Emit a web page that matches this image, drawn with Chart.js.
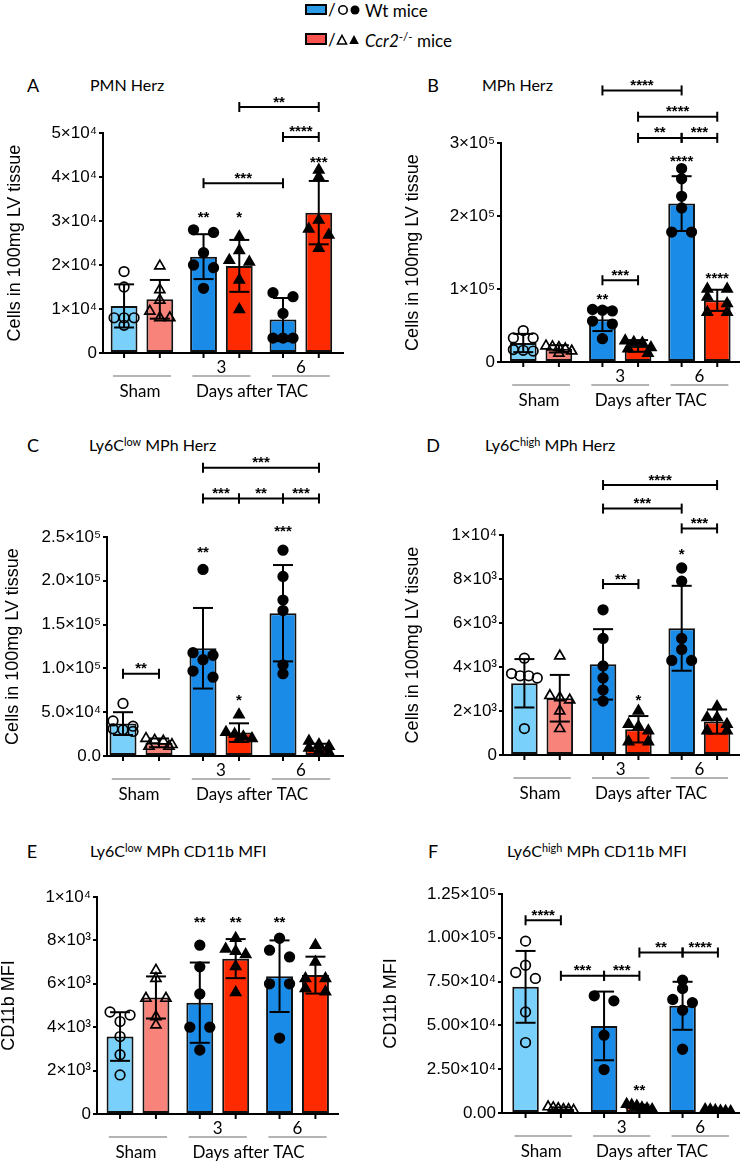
<!DOCTYPE html>
<html lang="en">
<head>
<meta charset="UTF-8">
<title>Ccr2 knockout - cardiac myeloid cells after TAC</title>
<script src="https://cdn.jsdelivr.net/npm/chart.js"></script>
<style>
  body { margin: 0; background: #fff; }
  #fig { position: relative; width: 747px; height: 1165px; overflow: hidden; font-family: Lato, "Open Sans", sans-serif; color: #000; }
  #fig canvas { position: absolute; }
  .lbl { position: absolute; transform: translate(-50%, -50%); font-size: 18px; line-height: 1; }
  .ttl { position: absolute; transform: translateY(-50%); font-size: 16px; line-height: 1; white-space: nowrap; }
  .ttl sup, .lg sup { font-size: 0.68em; vertical-align: 0.5em; line-height: 0; }
  .lg { position: absolute; left: 365px; transform: translateY(-50%); font-size: 17px; line-height: 1; white-space: nowrap; }
  #sym { position: absolute; left: 300px; top: 0; }
</style>
</head>
<body>
<div id="fig">
  <svg id="sym" width="65" height="50">
    <rect x="6" y="5" width="20" height="9" fill="#2b9be8" stroke="#000" stroke-width="2"/>
    <text x="28" y="16" font-family="Lato" font-size="17">/</text>
    <circle cx="43" cy="10" r="4.2" fill="none" stroke="#000" stroke-width="1.6"/>
    <circle cx="55" cy="10" r="4.5" fill="#000"/>
    <rect x="6" y="34" width="20" height="10" fill="#f9534f" stroke="#000" stroke-width="2"/>
    <text x="28" y="46" font-family="Lato" font-size="17">/</text>
    <polygon points="42,35.5 46.5,44 37.5,44" fill="none" stroke="#000" stroke-width="1.6"/>
    <polygon points="54,35 58.8,44 49.2,44" fill="#000"/>
  </svg>
  <div class="lg" style="top:10px">Wt mice</div>
  <div class="lg" style="top:40px"><i>Ccr2</i><sup>-/-</sup> mice</div>

  <div class="lbl" style="left:33px;top:85px">A</div>
  <div class="ttl" style="left:90px;top:85px">PMN Herz</div>
  <div class="lbl" style="left:433px;top:85px">B</div>
  <div class="ttl" style="left:482px;top:85px">MPh Herz</div>
  <div class="lbl" style="left:33px;top:445px">C</div>
  <div class="ttl" style="left:89px;top:445px">Ly6C<sup>low</sup> MPh Herz</div>
  <div class="lbl" style="left:433px;top:445px">D</div>
  <div class="ttl" style="left:485px;top:445px">Ly6C<sup>high</sup> MPh Herz</div>
  <div class="lbl" style="left:32px;top:851px">E</div>
  <div class="ttl" style="left:90px;top:851px">Ly6C<sup>low</sup> MPh CD11b MFI</div>
  <div class="lbl" style="left:433px;top:851px">F</div>
  <div class="ttl" style="left:507px;top:851px">Ly6C<sup>high</sup> MPh CD11b MFI</div>
</div>

<script>
// groups on the x axis, and the two genotypes
const groups = ['Sham', '3', '6'];
const dayLabels = ['', '3', '6'];
const timeTitle = 'Days after TAC';
const genotypes = ['Wt mice', 'Ccr2-/- mice'];
// bar index used by brackets / stars: 0 sham Wt, 1 sham Ccr2, 2 d3 Wt, 3 d3 Ccr2, 4 d6 Wt, 5 d6 Ccr2

// A - PMN Herz
const pmnTicks = ['0', '1×10⁴', '2×10⁴', '3×10⁴', '4×10⁴', '5×10⁴'];
const pmnWtMean = [10.7e3, 21.9e3, 7.6e3];
const pmnWtSd = [4.9e3, 5.1e3, 4.9e3];
const pmnKoMean = [12.2e3, 19.8e3, 31.9e3];
const pmnKoSd = [4.4e3, 5.9e3, 7.2e3];
const pmnWtPts = [[18.5e3, 15.0e3, 8.0e3, 8.0e3, 8.0e3, 6.3e3], [28.0e3, 27.4e3, 22.8e3, 20.0e3, 19.4e3, 14.7e3], [13.7e3, 12.8e3, 9.0e3, 3.4e3, 3.4e3, 3.4e3]];
const pmnKoPts = [[19.8e3, 14.4e3, 12.0e3, 9.5e3, 8.0e3, 8.0e3], [26.4e3, 23.3e3, 21.1e3, 20.7e3, 16.6e3, 9.9e3], [41.6e3, 40.0e3, 30.2e3, 28.2e3, 26.8e3, 23.8e3]];
const pmnBrackets = [[3, 5, 55.9e3, '**'], [4, 5, 49.1e3, '****'], [2, 4, 38.6e3, '***']];
const pmnStars = [[2, 31.8e3, '**'], [3, 31.8e3, '*'], [5, 44.3e3, '***']];

// B - MPh Herz
const mphTicks = ['0', '1×10⁵', '2×10⁵', '3×10⁵'];
const mphWtMean = [26e3, 58.4e3, 217e3];
const mphWtSd = [12.5e3, 16e3, 37.5e3];
const mphKoMean = [18e3, 22e3, 84.5e3];
const mphKoSd = [5e3, 8e3, 14.5e3];
const mphWtPts = [[43e3, 33e3, 33e3, 17e3, 16e3, 15e3], [72e3, 71e3, 70e3, 56e3, 52e3, 32e3], [265e3, 251e3, 227e3, 211e3, 178e3, 178e3]];
const mphKoPts = [[22e3, 21e3, 20e3, 18e3, 15e3, 12e3], [29e3, 27e3, 26e3, 20e3, 18e3, 12e3], [100e3, 100e3, 89e3, 80e3, 68e3, 68e3]];
const mphBrackets = [[2, 4, 372e3, '****'], [3, 5, 336e3, '****'], [3, 4, 307e3, '**'], [4, 5, 307e3, '***'], [2, 3, 112e3, '***']];
const mphStars = [[2, 91e3, '**'], [4, 280e3, '****'], [5, 120e3, '****']];

// C - Ly6C low MPh Herz
const lowTicks = ['0.0', '5.0×10⁴', '1.0×10⁵', '1.5×10⁵', '2.0×10⁵', '2.5×10⁵'];
const lowWtMean = [37e3, 123e3, 163e3];
const lowWtSd = [13e3, 46e3, 55e3];
const lowKoMean = [15e3, 26.7e3, 10e3];
const lowKoSd = [5e3, 10.6e3, 4e3];
const lowWtPts = [[60e3, 40e3, 34e3, 31e3, 30e3, 28e3], [213e3, 118e3, 115e3, 110e3, 97e3, 90e3], [235e3, 205e3, 178e3, 166e3, 104e3, 94e3]];
const lowKoPts = [[20e3, 18e3, 17e3, 13e3, 11e3, 11e3], [47e3, 27e3, 25e3, 22e3, 20e3, 19e3], [17e3, 13e3, 11e3, 9e3, 6e3, 4e3]];
const lowBrackets = [[2, 5, 329e3, '***'], [2, 3, 294e3, '***'], [3, 4, 294e3, '**'], [4, 5, 294e3, '***'], [0, 1, 94e3, '**']];
const lowStars = [[2, 237e3, '**'], [3, 68e3, '*'], [4, 261e3, '***']];

// D - Ly6C high MPh Herz
const highTicks = ['0', '2×10³', '4×10³', '6×10³', '8×10³', '1×10⁴'];
const highWtMean = [3.26e3, 4.12e3, 5.76e3];
const highWtSd = [1.1e3, 1.6e3, 1.93e3];
const highKoMean = [2.58e3, 1.17e3, 1.52e3];
const highKoSd = [1.06e3, 0.6e3, 0.55e3];
const highWtPts = [[4.4e3, 3.7e3, 3.6e3, 3.6e3, 3.5e3, 1.2e3], [6.6e3, 5.3e3, 4.05e3, 3.5e3, 2.95e3, 2.45e3], [8.5e3, 7.9e3, 5.3e3, 4.8e3, 4.3e3, 4.3e3]];
const highKoPts = [[4.5e3, 2.7e3, 2.6e3, 2.5e3, 2.0e3, 1.2e3], [2.0e3, 1.4e3, 1.3e3, 1.1e3, 0.6e3, 0.6e3], [2.2e3, 1.7e3, 1.7e3, 1.4e3, 1.1e3, 1.1e3]];
const highBrackets = [[2, 5, 12.27e3, '****'], [2, 4, 11.2e3, '***'], [4, 5, 10.3e3, '***'], [2, 3, 7.77e3, '**']];
const highStars = [[4, 9.3e3, '*'], [3, 2.68e3, '*']];

// E - Ly6C low MPh CD11b MFI
const lowMfiTicks = ['0', '2×10³', '4×10³', '6×10³', '8×10³', '1×10⁴'];
const lowMfiWtMean = [3.57e3, 5.13e3, 6.35e3];
const lowMfiWtSd = [1.12e3, 1.85e3, 1.65e3];
const lowMfiKoMean = [5.37e3, 7.16e3, 6.4e3];
const lowMfiKoSd = [0.97e3, 0.9e3, 0.85e3];
const lowMfiWtPts = [[4.7e3, 4.56e3, 4.26e3, 3.57e3, 2.73e3, 1.8e3], [7.78e3, 6.78e3, 5.53e3, 4.0e3, 4.0e3, 2.95e3], [8.1e3, 7.55e3, 7.24e3, 6.0e3, 6.0e3, 3.5e3]];
const lowMfiKoPts = [[6.63e3, 6.25e3, 5.33e3, 5.33e3, 4.48e3, 4.1e3], [8.1e3, 7.6e3, 7.5e3, 7.35e3, 6.8e3, 5.6e3], [7.78e3, 7.0e3, 6.25e3, 6.25e3, 5.78e3, 5.63e3]];
const lowMfiBrackets = [];
const lowMfiStars = [[2, 9.0e3, '**'], [3, 9.0e3, '**'], [4, 9.0e3, '**']];

// F - Ly6C high MPh CD11b MFI
const highMfiTicks = ['0.00', '2.50×10⁴', '5.00×10⁴', '7.50×10⁴', '1.00×10⁵', '1.25×10⁵'];
const highMfiWtMean = [72e3, 49.7e3, 61.2e3];
const highMfiWtSd = [20.5e3, 19.6e3, 13.7e3];
const highMfiKoMean = [2.4e3, 3.5e3, 1.4e3];
const highMfiKoSd = [0.8e3, 1.2e3, 0.5e3];
const highMfiWtPts = [[98.1e3, 84.4e3, 80.2e3, 76.8e3, 57.7e3, 40.2e3], [66.9e3, 64e3, 44.4e3, 24.8e3], [75.8e3, 71e3, 64.8e3, 63e3, 58.7e3, 36.4e3]];
const highMfiKoPts = [[3.5e3, 3.0e3, 2.5e3, 2.0e3, 2.0e3, 1.5e3], [5.0e3, 4.5e3, 4.0e3, 3.0e3, 2.5e3, 2.0e3], [2.0e3, 1.8e3, 1.5e3, 1.2e3, 1.0e3, 0.8e3]];
const highMfiBrackets = [[0, 1, 110e3, '****'], [1, 2, 78.3e3, '***'], [2, 3, 78.3e3, '***'], [3, 4, 91.6e3, '**'], [4, 5, 91.6e3, '****']];
const highMfiStars = [[3, 15.2e3, '**']];

const cellsTitle = 'Cells in 100mg LV tissue';
const mfiTitle = 'CD11b MFI';

// layout: box = canvas [left, top, w, h], area = plot [left, top, right, bottom] in page pixels
const panels = [
  { box: [0, 70, 374, 345], area: [103, 133, 343, 353], xRange: [-0.49, 2.53], yMax: 5e4, yStep: 1e4, ticks: pmnTicks,
    yTitle: cellsTitle, titlePad: 6, wt: [pmnWtMean, pmnWtSd, pmnWtPts], ko: [pmnKoMean, pmnKoSd, pmnKoPts], brackets: pmnBrackets, stars: pmnStars },
  { box: [374, 70, 373, 345], area: [501, 143, 742, 362], xRange: [-0.506, 2.506], yMax: 3e5, yStep: 1e5, ticks: mphTicks,
    yTitle: cellsTitle, titlePad: 30, wt: [mphWtMean, mphWtSd, mphWtPts], ko: [mphKoMean, mphKoSd, mphKoPts], brackets: mphBrackets, stars: mphStars },
  { box: [0, 425, 374, 385], area: [107, 537, 343, 756], xRange: [-0.425, 2.525], yMax: 2.5e5, yStep: 5e4, ticks: lowTicks,
    yTitle: cellsTitle, titlePad: 4, wt: [lowWtMean, lowWtSd, lowWtPts], ko: [lowKoMean, lowKoSd, lowKoPts], brackets: lowBrackets, stars: lowStars },
  { box: [374, 425, 373, 385], area: [503, 535, 742, 755], xRange: [-0.497, 2.51], yMax: 1e4, yStep: 2e3, ticks: highTicks,
    yTitle: cellsTitle, titlePad: 30, wt: [highWtMean, highWtSd, highWtPts], ko: [highKoMean, highKoSd, highKoPts], brackets: highBrackets, stars: highStars },
  { box: [0, 820, 374, 345], area: [97, 897, 338, 1114], xRange: [-0.514, 2.508], yMax: 1e4, yStep: 2e3, ticks: lowMfiTicks,
    yTitle: mfiTitle, titlePad: 0, wt: [lowMfiWtMean, lowMfiWtSd, lowMfiWtPts], ko: [lowMfiKoMean, lowMfiKoSd, lowMfiKoPts], brackets: lowMfiBrackets, stars: lowMfiStars },
  { box: [374, 820, 373, 345], area: [502, 894, 744, 1113], xRange: [-0.525, 2.5], yMax: 1.25e5, yStep: 2.5e4, ticks: highMfiTicks,
    yTitle: mfiTitle, titlePad: 8, wt: [highMfiWtMean, highMfiWtSd, highMfiWtPts], ko: [highMfiKoMean, highMfiKoSd, highMfiKoPts], brackets: highMfiBrackets, stars: highMfiStars }
];

const wtFill = ['#79d1fb', '#1a8ce8', '#1a8ce8'];
const koFill = ['#f8837a', '#ff2a00', '#ff2a00'];
const PAIR = 0.225; // half gap between Wt and Ccr2 bar inside a group (group units)

Chart.defaults.font.family = '"Liberation Sans", Arial, sans-serif';
Chart.defaults.color = '#000';

// spread points of similar height sideways, like Prism does (returns px offsets)
function swarm(vals, pxPerY) {
  const order = vals.map((v, i) => i).sort((a, b) => vals[b] - vals[a]);
  const off = vals.map(() => 0);
  let row = [];
  const flush = () => {
    const n = row.length;
    const s = n === 2 ? 20 : Math.min(10, 26 / Math.max(1, n - 1));
    row.forEach((k, j) => { off[k] = (j - (n - 1) / 2) * s; });
    row = [];
  };
  order.forEach(k => {
    if (row.length && (vals[row[0]] - vals[k]) * pxPerY > 7) flush();
    row.push(k);
  });
  flush();
  return off;
}

function seg(ctx, x1, y1, x2, y2) {
  ctx.beginPath();
  ctx.moveTo(x1, y1);
  ctx.lineTo(x2, y2);
  ctx.stroke();
}

function starText(ctx, txt, cx, cy) {
  ctx.font = 'bold 15px "Liberation Sans", Arial, sans-serif';
  ctx.textAlign = 'center';
  ctx.textBaseline = 'alphabetic';
  ctx.fillText(txt, cx, cy + 8.5);
}

// error bars, x tick marks, significance brackets and group captions
const figPlugin = {
  id: 'fig',
  afterDraw(chart, args, o) {
    const { ctx, chartArea: ca, scales: { x, y } } = chart;
    const bars = [];
    for (let g = 0; g < 3; g++) for (let d = 0; d < 2; d++) bars.push(chart.getDatasetMeta(d).data[g]);
    ctx.save();
    ctx.strokeStyle = '#000';
    ctx.fillStyle = '#000';
    ctx.lineWidth = 2;
    bars.forEach(b => seg(ctx, b.x, ca.bottom, b.x, ca.bottom + 5));
    bars.forEach((b, k) => {
      const d = k % 2, g = (k - d) / 2;
      const mean = chart.data.datasets[d].data[g].y, sd = o.sd[d][g];
      const t = y.getPixelForValue(mean + sd), lo = y.getPixelForValue(Math.max(0, mean - sd));
      seg(ctx, b.x, t, b.x, lo);
      seg(ctx, b.x - 10, t, b.x + 10, t);
      seg(ctx, b.x - 10, lo, b.x + 10, lo);
    });
    o.brackets.forEach(([a, b, v, txt]) => {
      const py = y.getPixelForValue(v), xa = bars[a].x, xb = bars[b].x;
      seg(ctx, xa, py, xb, py);
      seg(ctx, xa, py - 5, xa, py + 5);
      seg(ctx, xb, py - 5, xb, py + 5);
      starText(ctx, txt, (xa + xb) / 2, py - 9);
    });
    o.stars.forEach(([k, v, txt]) => starText(ctx, txt, bars[k].x, y.getPixelForValue(v)));

    ctx.strokeStyle = '#9b9b9b';
    ctx.lineWidth = 1.3;
    groups.forEach((g, i) => seg(ctx, x.getPixelForValue(i - 0.365), ca.bottom + 23, x.getPixelForValue(i + 0.365), ca.bottom + 23));
    ctx.font = '17px Lato, sans-serif';
    ctx.textAlign = 'center';
    ctx.textBaseline = 'middle';
    ctx.fillText(groups[0], x.getPixelForValue(0) - 2, ca.bottom + 39);
    ctx.fillText(timeTitle, x.getPixelForValue(1.5) - 9, ca.bottom + 39);
    ctx.restore();
  }
};

panels.forEach(p => {
  const [bl, bt, bw, bh] = p.box;
  const [aL, aT, aR, aB] = p.area;
  const cv = document.createElement('canvas');
  cv.width = bw;
  cv.height = bh;
  cv.style.left = bl + 'px';
  cv.style.top = bt + 'px';
  document.getElementById('fig').appendChild(cv);

  const pxX = (aR - aL) / (p.xRange[1] - p.xRange[0]);
  const pxY = (aB - aT) / p.yMax;

  const bars = (means, side, fill, label) => ({
    label, data: means.map((m, g) => ({ x: g + side * PAIR, y: m })),
    backgroundColor: fill, borderColor: '#111', borderWidth: 2, borderSkipped: false,
    grouped: false, categoryPercentage: 1, barPercentage: 0.75, order: 2
  });
  const dots = (sets, side, style, r, label) => ({
    type: 'scatter', label, order: 1, pointStyle: style, pointRadius: r,
    pointBorderColor: '#000', pointBorderWidth: 1.7,
    data: sets.flatMap((vals, g) => {
      const off = swarm(vals, pxY);
      return vals.map((v, k) => ({ x: g + side * PAIR + off[k] / pxX, y: v }));
    }),
    pointBackgroundColor: sets.flatMap((vals, g) => vals.map(() => g === 0 ? 'rgba(0,0,0,0)' : '#000'))
  });

  new Chart(cv, {
    type: 'bar',
    data: {
      datasets: [
        bars(p.wt[0], -1, wtFill, genotypes[0]),
        bars(p.ko[0], 1, koFill, genotypes[1]),
        dots(p.wt[2], -1, 'circle', 4.8, genotypes[0]),
        dots(p.ko[2], 1, 'triangle', 5.8, genotypes[1])
      ]
    },
    options: {
      responsive: false,
      animation: false,
      devicePixelRatio: 1,
      events: [],
      layout: { padding: { left: 0, top: aT - bt, right: bl + bw - aR, bottom: bt + bh - aB - 30 } },
      plugins: {
        legend: { display: false },
        tooltip: { enabled: false },
        fig: { sd: [p.wt[1], p.ko[1]], brackets: p.brackets, stars: p.stars }
      },
      scales: {
        x: {
          type: 'linear', min: p.xRange[0], max: p.xRange[1], offset: false,
          afterBuildTicks: s => { s.ticks = dayLabels.map((_, i) => ({ value: i })); },
          afterFit: s => { s.height = 30; },
          ticks: { callback: (v, i) => dayLabels[i], font: { family: 'Lato, sans-serif', size: 17 }, padding: 4, maxRotation: 0, autoSkip: false },
          grid: { display: false, drawTicks: false },
          border: { display: true, color: '#000', width: 2 }
        },
        y: {
          min: 0, max: p.yMax,
          afterFit: s => { s.width = aL - bl; },
          ticks: { stepSize: p.yStep, callback: (v, i) => p.ticks[i], font: { size: 17 }, padding: 2, autoSkip: false },
          grid: { drawOnChartArea: false, drawTicks: true, tickLength: 4, color: '#000', lineWidth: 2 },
          border: { display: true, color: '#000', width: 2 },
          title: { display: true, text: p.yTitle, font: { size: 18, lineHeight: 1 }, padding: { top: p.titlePad, bottom: 0 } }
        }
      }
    },
    plugins: [figPlugin]
  });
});
</script>
</body>
</html>
